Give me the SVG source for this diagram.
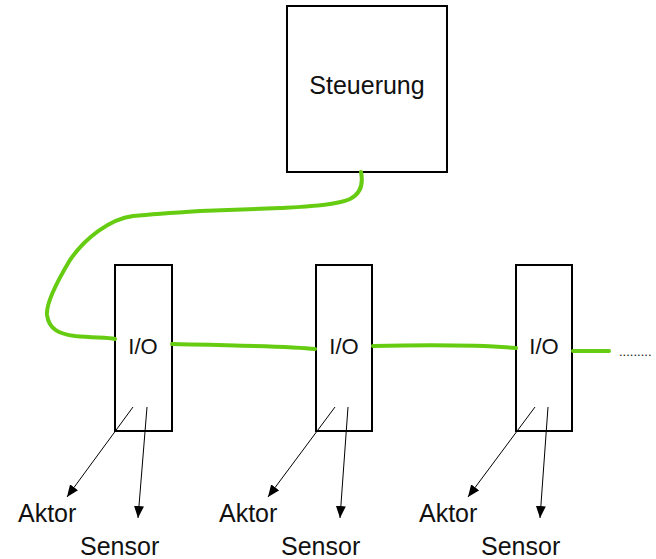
<svg xmlns="http://www.w3.org/2000/svg" width="656" height="559" viewBox="0 0 656 559">
<defs>
<marker id="ah" viewBox="0 0 12 10" refX="12" refY="5" markerWidth="12" markerHeight="10" markerUnits="userSpaceOnUse" orient="auto">
<path d="M0,0 L12,5 L0,10 Z" fill="#000"/>
</marker>
</defs>
<style>
.box{fill:#fff;stroke:#000;stroke-width:2}
.lbl{font-family:"Liberation Sans",Arial,sans-serif;fill:#111}
.bus{fill:none;stroke:#66cc11;stroke-width:4;stroke-linecap:round;stroke-linejoin:round}
.arr{stroke:#000;stroke-width:1;fill:none;marker-end:url(#ah)}
</style>
<g id="steuerung">
<rect class="box" x="287" y="6" width="160" height="166"/>
<text class="lbl" x="367" y="94" font-size="25" text-anchor="middle">Steuerung</text>
</g>
<g id="io1">
<rect class="box" x="115" y="265" width="57" height="166"/>
<text class="lbl" x="143" y="354" font-size="22" text-anchor="middle">I/O</text>
</g>
<g id="io2">
<rect class="box" x="316" y="265" width="56" height="166"/>
<text class="lbl" x="344" y="354" font-size="22" text-anchor="middle">I/O</text>
</g>
<g id="io3">
<rect class="box" x="516" y="265" width="56" height="166"/>
<text class="lbl" x="544" y="354" font-size="22" text-anchor="middle">I/O</text>
</g>
<g id="connectors">
<path class="bus" d="M361,172 C363,182 362,193 350,199 C335,206 300,207 280,208 C250,209 220,210 200,211 C170,213 155,214 133,216 C110,219 85,238 70,260 C55,285 46,305 47,315 C49,330 60,334 75,336 C95,338 108,337 115,339"/>
<path class="bus" d="M172,344 C220,345 290,346 315,349"/>
<path class="bus" d="M373,346 C420,345 480,345 516,348"/>
<path class="bus" d="M573,351 L609,351"/>
<line class="arr" x1="133" y1="407" x2="67" y2="497"/>
<line class="arr" x1="147" y1="407" x2="138" y2="518"/>
<line class="arr" x1="335" y1="407" x2="268" y2="497"/>
<line class="arr" x1="348" y1="407" x2="340" y2="518"/>
<line class="arr" x1="535" y1="407" x2="468" y2="497"/>
<line class="arr" x1="548" y1="407" x2="540" y2="518"/>
</g>
<g id="labels">
<text class="lbl" x="18" y="522" font-size="25">Aktor</text>
<text class="lbl" x="80" y="555" font-size="25">Sensor</text>
<text class="lbl" x="219" y="522" font-size="25">Aktor</text>
<text class="lbl" x="281" y="555" font-size="25">Sensor</text>
<text class="lbl" x="419" y="522" font-size="25">Aktor</text>
<text class="lbl" x="481" y="555" font-size="25">Sensor</text>
<text class="lbl" x="619" y="356" font-size="13">.........</text>
</g>
</svg>
